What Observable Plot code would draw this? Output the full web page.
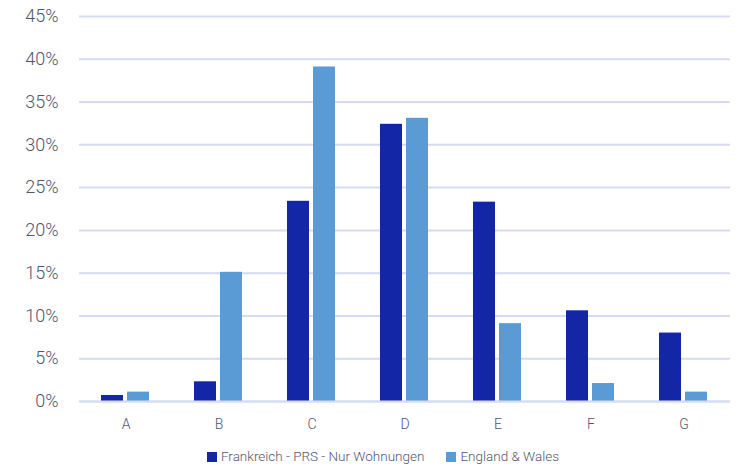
<!DOCTYPE html>
<html><head><meta charset="utf-8">
<script src="https://cdn.jsdelivr.net/npm/d3@7"></script>
<script src="https://cdn.jsdelivr.net/npm/@observablehq/plot@0.6"></script>
<style>
body{margin:0;background:#fff;font-family:Roboto,sans-serif;font-weight:300;}
#legend{display:flex;justify-content:center;gap:22px;font-size:13.5px;color:#4f5670;margin-top:8px;margin-left:24px}
#legend span.sw{display:inline-block;width:10px;height:10px;margin-right:4px;vertical-align:-1px}
</style></head><body>
<div id="chart"></div>
<div id="legend"></div>
<script>
const categories = ["A","B","C","D","E","F","G"];
const seriesNames = ["Frankreich - PRS - Nur Wohnungen","England & Wales"];
const frankreich = [0.7,2.3,23.4,32.4,23.3,10.6,8.0];
const englandWales = [1.1,15.1,39.1,33.1,9.1,2.1,1.1];
const colors = ["#1326a5","#5b9bd5"];
const yTicks = [0,5,10,15,20,25,30,35,40,45];

const data = [];
categories.forEach((c,i)=>{
  data.push({cat:c, series:seriesNames[0], value:frankreich[i]});
  data.push({cat:c, series:seriesNames[1], value:englandWales[i]});
});

const chart = Plot.plot({
  width: 742, height: 440,
  marginLeft: 77, marginRight: 11, marginTop: 16, marginBottom: 39,
  style:{fontFamily:"Roboto, sans-serif", fontWeight:300, color:"#4f5670", background:"#fff"},
  fx:{domain:categories, padding:0, label:null},
  x:{domain:seriesNames, paddingInner:0.15, paddingOuter:0.8, axis:null},
  y:{domain:[0,45], ticks:yTicks, label:null},
  color:{domain:seriesNames, range:colors},
  marks:[
    Plot.gridY(yTicks,{stroke:"#d5dbf1", strokeOpacity:1, strokeWidth:2, facetAnchor:null}),
    Plot.axisY({ticks:yTicks, tickSize:0, tickPadding:21, tickFormat:d=>d+"%", fontSize:18, fill:"#4f5670", anchor:"left"}),
    Plot.barY(data,{fx:"cat", x:"series", y:"value", fill:"series", inset:0}),
    Plot.axisFx({anchor:"bottom", tickSize:0, tickPadding:18, fontSize:14, fill:"#4f5670", label:null}),
    Plot.ruleY([0],{stroke:"#d5dbf1", strokeWidth:2})
  ]
});
document.getElementById("chart").appendChild(chart);

const lg = document.getElementById("legend");
seriesNames.forEach((s,i)=>{
  const d = document.createElement("div");
  d.innerHTML = `<span class="sw" style="background:${colors[i]}"></span>${s}`;
  lg.appendChild(d);
});
</script>
</body></html>
